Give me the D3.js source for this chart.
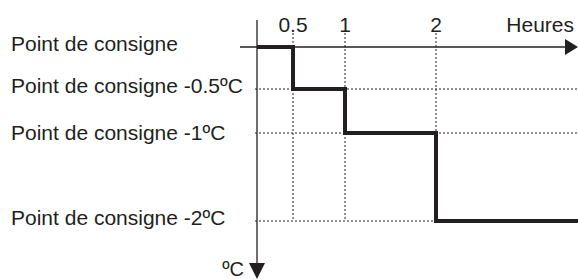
<!DOCTYPE html>
<meta charset="utf-8">
<style>
  body { margin: 0; background: #fff; }
  text { font-family: "Liberation Sans", Arial, sans-serif; fill: #231f20; }
</style>
<svg width="578" height="280"></svg>

<script src="https://cdnjs.cloudflare.com/ajax/libs/d3/7.8.5/d3.min.js"></script>

<script>

	// niveaux (ºC sous le point de consigne) et leurs libellés
	var levels = [0, -0.5, -1, -2];
	var levelLabels = ["Point de consigne", "Point de consigne -0.5ºC", "Point de consigne -1ºC", "Point de consigne -2ºC"];

	// graduations de l'axe des heures
	var hourTicks = [0.5, 1, 2];
	var hourTickLabels = ["0.5", "1", "2"];

	// profil en escalier : heure de début de chaque palier, niveau
	var stepHours = [0, 0.5, 1, 2, 3.6];
	var stepLevels = [0, -0.5, -1, -2, -2];

	var svg = d3.select("svg"),
		width = +svg.attr("width"),
		height = +svg.attr("height"),
		ink = "#231f20";

	// l'original n'est pas à l'échelle : échelles polylinéaires
	var x = d3.scaleLinear().domain([0, 0.5, 1, 2]).range([257, 293, 345, 436]);
	var y = d3.scaleLinear().domain([0, -0.5, -1, -2]).range([47, 89, 133, 221]);

	var g = svg.append("g");

	// GUIDES POINTILLES

	g.selectAll(".hguide")
		.data(levels.slice(1))
		.enter().append("line")
		.attr("class", "hguide")
		.attr("x1", x(0) - 2)
		.attr("x2", function(d) { return d === -2 ? x(2) : width; })
		.attr("y1", function(d) { return y(d); })
		.attr("y2", function(d) { return y(d); })
		.attr("stroke", ink)
		.attr("stroke-width", 1)
		.attr("stroke-dasharray", "2,2");

	g.selectAll(".vguide")
		.data(hourTicks)
		.enter().append("line")
		.attr("class", "vguide")
		.attr("x1", function(d) { return x(d); })
		.attr("x2", function(d) { return x(d); })
		.attr("y1", 33)
		.attr("y2", y(-2))
		.attr("stroke", ink)
		.attr("stroke-width", 1)
		.attr("stroke-dasharray", "2,2");

	// AXES

	g.append("line")
		.attr("x1", 240).attr("x2", width - 12)
		.attr("y1", y(0)).attr("y2", y(0))
		.attr("stroke", ink).attr("stroke-width", 1.3);

	g.append("path")
		.attr("d", "M" + (width - 13) + "," + (y(0) - 8) + "L" + width + "," + y(0) + "L" + (width - 13) + "," + (y(0) + 8) + "Z")
		.attr("fill", ink);

	g.append("line")
		.attr("x1", x(0)).attr("x2", x(0))
		.attr("y1", 20).attr("y2", height - 16)
		.attr("stroke", ink).attr("stroke-width", 1.3);

	g.append("path")
		.attr("d", "M" + (x(0) - 8) + "," + (height - 17) + "L" + x(0) + "," + (height - 1) + "L" + (x(0) + 8) + "," + (height - 17) + "Z")
		.attr("fill", ink);

	// PROFIL

	var profile = d3.line()
		.x(function(d) { return x(d[0]); })
		.y(function(d) { return y(d[1]); })
		.curve(d3.curveStepAfter);

	g.append("path")
		.datum(d3.zip(stepHours, stepLevels))
		.attr("d", profile)
		.attr("fill", "none")
		.attr("stroke", ink)
		.attr("stroke-width", 4)
		.attr("stroke-linejoin", "miter");

	// TEXTES

	g.selectAll(".levelLabel")
		.data(levels)
		.enter().append("text")
		.attr("class", "levelLabel")
		.attr("x", 11)
		.attr("y", function(d) { return y(d) + (d === -1 ? 7 : 4); })
		.style("font-size", "21px")
		.text(function(d, i) { return levelLabels[i]; });

	g.selectAll(".hourLabel")
		.data(hourTicks)
		.enter().append("text")
		.attr("class", "hourLabel")
		.attr("x", function(d) { return x(d); })
		.attr("y", 32)
		.attr("text-anchor", "middle")
		.style("font-size", "21px")
		.text(function(d, i) { return hourTickLabels[i]; });

	g.append("text")
		.attr("x", 574)
		.attr("y", 32)
		.attr("text-anchor", "end")
		.style("font-size", "21px")
		.text("Heures");

	g.append("text")
		.attr("x", 244)
		.attr("y", 276)
		.attr("text-anchor", "end")
		.style("font-size", "20px")
		.text("ºC");

</script>
